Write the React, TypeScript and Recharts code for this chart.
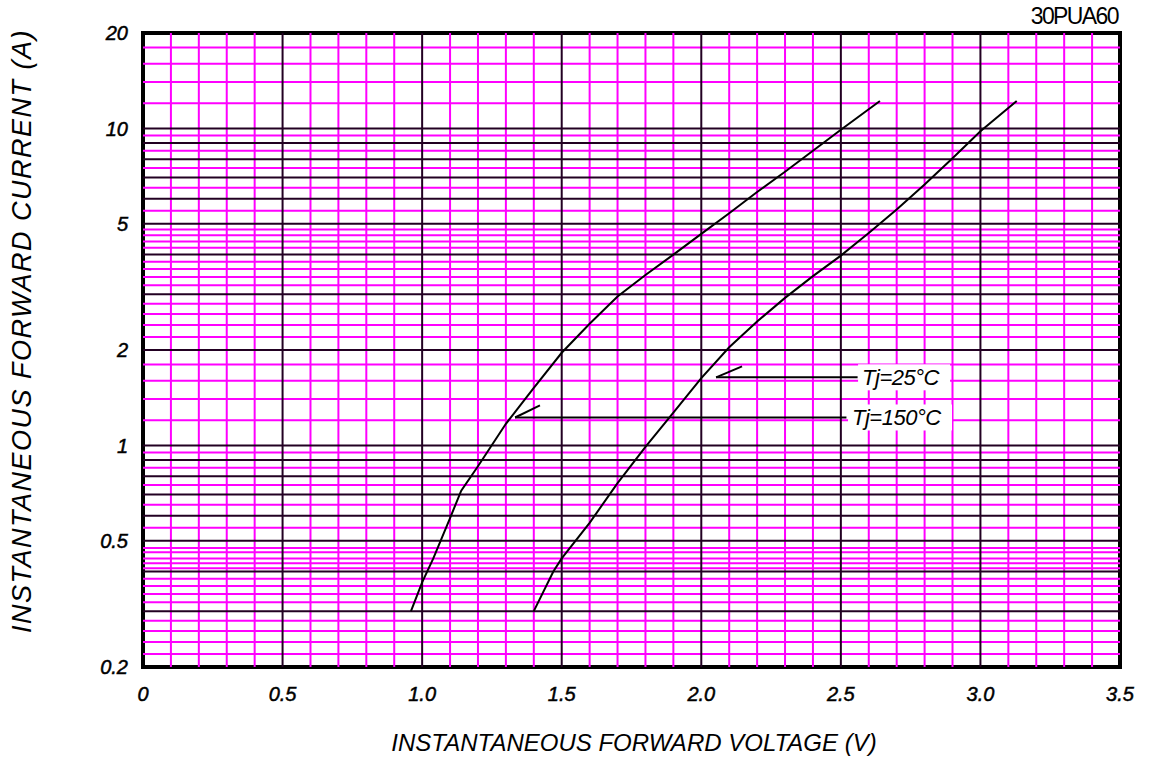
import React from "react";
import {
  LineChart,
  Line,
  XAxis,
  YAxis,
  ReferenceLine,
  ReferenceArea,
  ReferenceDot,
} from "recharts";

// forward voltage (V) grid
const voltTicks = [0, 0.5, 1, 1.5, 2, 2.5, 3, 3.5];
const voltMajor = [0.5, 1, 1.5, 2, 2.5, 3];
const voltMinor = [
  0.1, 0.2, 0.3, 0.4, 0.6, 0.7, 0.8, 0.9, 1.1, 1.2, 1.3, 1.4, 1.6, 1.7, 1.8,
  1.9, 2.1, 2.2, 2.3, 2.4, 2.6, 2.7, 2.8, 2.9, 3.1, 3.2, 3.3, 3.4,
];

// forward current (A) grid, log scale
const currentTicks = [0.2, 0.5, 1, 2, 5, 10, 20];
const currentMajor = [0.3, 0.4, 0.5, 0.6, 0.7, 0.8, 0.9, 1, 2, 3, 4, 5, 6, 7, 8, 9, 10];
const currentMinor = [
  0.22, 0.24, 0.26, 0.28, 0.32, 0.34, 0.36, 0.38, 0.41, 0.425, 0.44, 0.46,
  0.475, 0.55, 0.65, 0.75, 0.85, 0.95, 1.2, 1.4, 1.6, 1.8, 2.2, 2.4, 2.6, 2.8,
  3.2, 3.4, 3.6, 3.8, 4.2, 4.4, 4.6, 4.8, 5.5, 6.5, 7.5, 8.5, 9.5, 12, 14, 16, 18,
];

// Tj = 150°C curve
const tj150 = [
  { v: 0.96, i: 0.3 },
  { v: 1.0, i: 0.37 },
  { v: 1.04, i: 0.44 },
  { v: 1.1, i: 0.59 },
  { v: 1.14, i: 0.72 },
  { v: 1.2, i: 0.86 },
  { v: 1.3, i: 1.17 },
  { v: 1.4, i: 1.52 },
  { v: 1.5, i: 1.96 },
  { v: 1.6, i: 2.42 },
  { v: 1.7, i: 2.95 },
  { v: 1.8, i: 3.45 },
  { v: 1.9, i: 4.0 },
  { v: 2.0, i: 4.65 },
  { v: 2.1, i: 5.4 },
  { v: 2.2, i: 6.3 },
  { v: 2.3, i: 7.3 },
  { v: 2.4, i: 8.5 },
  { v: 2.5, i: 9.9 },
  { v: 2.64, i: 12.2 },
];

// Tj = 25°C curve
const tj25 = [
  { v: 1.4, i: 0.3 },
  { v: 1.47, i: 0.4 },
  { v: 1.5, i: 0.44 },
  { v: 1.6, i: 0.57 },
  { v: 1.7, i: 0.76 },
  { v: 1.8, i: 0.99 },
  { v: 1.9, i: 1.27 },
  { v: 2.0, i: 1.63 },
  { v: 2.1, i: 2.04 },
  { v: 2.2, i: 2.46 },
  { v: 2.3, i: 2.92 },
  { v: 2.4, i: 3.42 },
  { v: 2.5, i: 3.97 },
  { v: 2.6, i: 4.68 },
  { v: 2.7, i: 5.55 },
  { v: 2.8, i: 6.65 },
  { v: 2.9, i: 8.05 },
  { v: 3.0, i: 9.8 },
  { v: 3.13, i: 12.2 },
];

// leader lines with arrow heads, and label anchors
const lead25 = [{ v: 2.053, i: 1.64 }, { v: 2.56, i: 1.64 }];
const head25 = [{ v: 2.053, i: 1.64 }, { v: 2.146, i: 1.775 }];
const lead150 = [{ v: 1.333, i: 1.225 }, { v: 2.52, i: 1.225 }];
const head150 = [{ v: 1.333, i: 1.225 }, { v: 1.422, i: 1.337 }];
const labels = [
  { v: 2.576, i: 1.64, text: "Tj=25°C" },
  { v: 2.54, i: 1.225, text: "Tj=150°C" },
];

const FONT = "'Liberation Sans', Arial, sans-serif";
const MAGENTA = "#ff00ff";
const DARK = "#220022";

const fmtVolt = (v: number) => (v === 0 ? "0" : v.toFixed(1));

const tickStyle = {
  fontSize: 20,
  fontStyle: "italic",
  fill: "#000",
  fontFamily: FONT,
  stroke: "#000",
  strokeWidth: 0.5,
};

const LabelShape = (text: string) => (props: any) => {
  const { cx, cy } = props;
  const w = text.length * 12 + 8;
  return (
    <g>
      <rect x={cx - 4} y={cy - 13} width={w} height={26} fill="#fff" />
      <text
        x={cx}
        y={cy}
        dy="0.36em"
        fontFamily={FONT}
        fontStyle="italic"
        fontSize={22}
        letterSpacing={-0.5}
        fill="#000"
      >
        {text}
      </text>
    </g>
  );
};

const YTitle = () => (
  <text
    x={22}
    y={331}
    transform="rotate(-90 22 331)"
    textAnchor="middle"
    dominantBaseline="central"
    fontFamily={FONT}
    fontStyle="italic"
    fontSize={27}
    letterSpacing={1.5}
    fill="#000"
  >
    INSTANTANEOUS FORWARD CURRENT (A)
  </text>
);

const XTitle = () => (
  <text
    x={634}
    y={742}
    textAnchor="middle"
    dominantBaseline="central"
    fontFamily={FONT}
    fontStyle="italic"
    fontSize={24}
    letterSpacing={0}
    fill="#000"
  >
    INSTANTANEOUS FORWARD VOLTAGE (V)
  </text>
);

export default function App() {
  return (
    <div style={{ position: "absolute", left: 0, top: 0, width: 1157, height: 760, background: "#fff" }}>
      <div
        style={{
          position: "absolute",
          right: 39,
          top: 3,
          fontFamily: FONT,
          fontSize: 23,
          letterSpacing: -1.6,
          color: "#000",
          zIndex: 2,
        }}
      >
        30PUA60
      </div>
      <LineChart
        width={1157}
        height={760}
        margin={{ top: 33, right: 37, bottom: 0, left: 0 }}
      >
        <XAxis
          type="number"
          dataKey="v"
          domain={[0, 3.5]}
          ticks={voltTicks}
          tickFormatter={fmtVolt}
          height={93}
          tickSize={0}
          tickMargin={20}
          axisLine={false}
          tickLine={false}
          allowDataOverflow
          tick={tickStyle}
          label={{ content: XTitle }}
        />
        <YAxis
          type="number"
          dataKey="i"
          scale="log"
          domain={[0.2, 20]}
          ticks={currentTicks}
          width={143}
          tickSize={0}
          tickMargin={15}
          axisLine={false}
          tickLine={false}
          allowDataOverflow
          tick={tickStyle}
          label={{ content: YTitle }}
        />
        {voltMinor.map((v) => (
          <ReferenceLine key={"vm" + v} x={v} stroke={MAGENTA} strokeWidth={2} />
        ))}
        {currentMinor.map((c) => (
          <ReferenceLine key={"cm" + c} y={c} stroke={MAGENTA} strokeWidth={2} />
        ))}
        {voltMajor.map((v) => (
          <ReferenceLine key={"vM" + v} x={v} stroke={DARK} strokeWidth={2} />
        ))}
        {currentMajor.map((c) => (
          <ReferenceLine key={"cM" + c} y={c} stroke={DARK} strokeWidth={2} />
        ))}
        <ReferenceArea
          x1={0}
          x2={3.5}
          y1={0.2}
          y2={20}
          fill="none"
          fillOpacity={0}
          stroke="#000"
          strokeWidth={4}
        />
        <Line data={tj150} dataKey="i" stroke="#000" strokeWidth={2} dot={false} isAnimationActive={false} type="linear" />
        <Line data={tj25} dataKey="i" stroke="#000" strokeWidth={2} dot={false} isAnimationActive={false} type="linear" />
        <Line data={lead25} dataKey="i" stroke="#000" strokeWidth={2} dot={false} isAnimationActive={false} />
        <Line data={head25} dataKey="i" stroke="#000" strokeWidth={2} dot={false} isAnimationActive={false} />
        <Line data={lead150} dataKey="i" stroke="#000" strokeWidth={2} dot={false} isAnimationActive={false} />
        <Line data={head150} dataKey="i" stroke="#000" strokeWidth={2} dot={false} isAnimationActive={false} />
        {labels.map((l) => (
          <ReferenceDot key={l.text} x={l.v} y={l.i} r={1} shape={LabelShape(l.text)} />
        ))}
      </LineChart>
    </div>
  );
}
